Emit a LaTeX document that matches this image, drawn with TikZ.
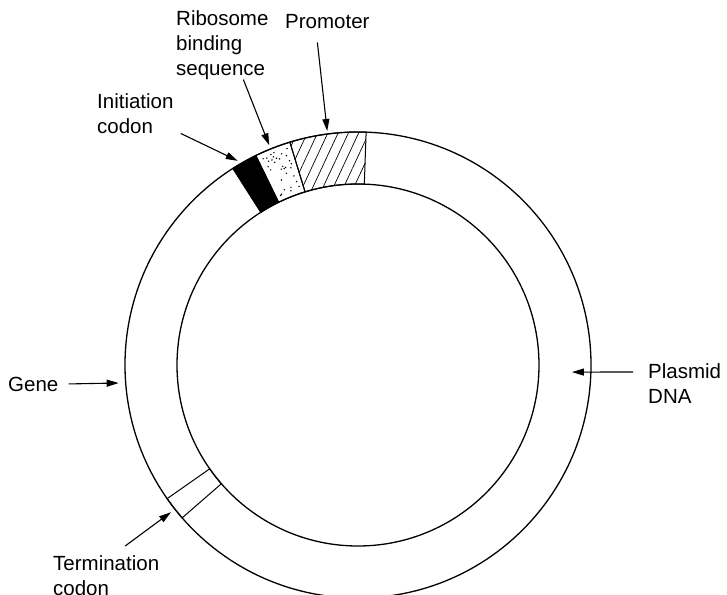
\documentclass[tikz,border=0pt]{standalone}
\usepackage{fontspec}
\setmainfont{Liberation Sans}
\usepackage{tikz}
\usetikzlibrary{arrows.meta,patterns.meta}

\begin{document}
\begin{tikzpicture}[x=1pt,y=1pt]
    \tikzstyle{every node}+=[inner sep=0pt]
    \tikzstyle{lbl}=[font=\fontsize{20.5}{25}\selectfont, align=left]
    \tikzstyle{ptr}=[line width=1.1pt, -{Triangle[length=12pt,width=7pt]}]
    \tikzstyle{ring}=[line width=1.3pt]
    \tikzstyle{seg}=[line width=1pt]
    \useasboundingbox (-358,-229) rectangle (369,365);
    % promoter, hatched
    \draw[seg, pattern={Lines[angle=65,distance=9.3pt,line width=0.7pt]}]
        (88:181) arc[start angle=88,end angle=107,radius=181] -- (107:233)
        arc[start angle=107,end angle=88,radius=233] -- cycle;
    % ribosome binding sequence, stippled
    \draw[seg] (107:181) arc[start angle=107,end angle=116,radius=181] -- (116:233)
        arc[start angle=116,end angle=107,radius=233] -- cycle;
    \pgfmathsetseed{12}
    \foreach \i in {1,...,32}{
        \pgfmathsetmacro{\da}{108+7*rnd}
        \pgfmathsetmacro{\dr}{186+43*rnd}
        \fill (\da:\dr) circle (0.8);
    }
    % initiation codon
    \draw[seg, fill=black] (116:181) arc[start angle=116,end angle=122.5,radius=181] -- (122.5:233)
        arc[start angle=122.5,end angle=116,radius=233] -- cycle;
    % termination codon
    \draw[seg] (215:181) arc[start angle=215,end angle=221,radius=181] -- (221:233)
        arc[start angle=221,end angle=215,radius=233] -- cycle;
    \draw[ring] (0,0) circle (233);
    \draw[ring] (0,0) circle (181);

    \node[lbl, anchor=north west] (rbs) at (-182,355) {Ribosome\\binding\\sequence};
    \node[lbl, anchor=base west] (prom) at (-73,336) {Promoter};
    \node[lbl, anchor=north west] (init) at (-261,272) {Initiation\\codon};
    \node[lbl, anchor=base west] (gene) at (-350,-26) {Gene};
    \node[lbl, anchor=north west] (plas) at (290,2) {Plasmid\\DNA};
    \node[lbl, anchor=north west] (term) at (-305,-190) {Termination\\codon};

    \coordinate (rbstip) at (112:237);
    \coordinate (promtip) at (97.5:236);
    \coordinate (inittip) at (120.5:237);
    \coordinate (genetip) at (184.3:240);
    \coordinate (plastip) at (-1.9:214);
    \coordinate (termtip) at (218.2:238);

    \draw[ptr] ([xshift=21pt]rbs.south) -- (rbstip);
    \draw[ptr] ([xshift=-10pt,yshift=-13pt]prom.south) -- (promtip);
    \draw[ptr] ([xshift=7pt]init.south east) -- (inittip);
    \draw[ptr] ([xshift=10pt]gene.east) -- (genetip);
    \draw[ptr] ([xshift=-15pt,yshift=-9pt]plas.north west) -- (plastip);
    \draw[ptr] ([xshift=19pt,yshift=9pt]term.north) -- (termtip);
\end{tikzpicture}
\end{document}
